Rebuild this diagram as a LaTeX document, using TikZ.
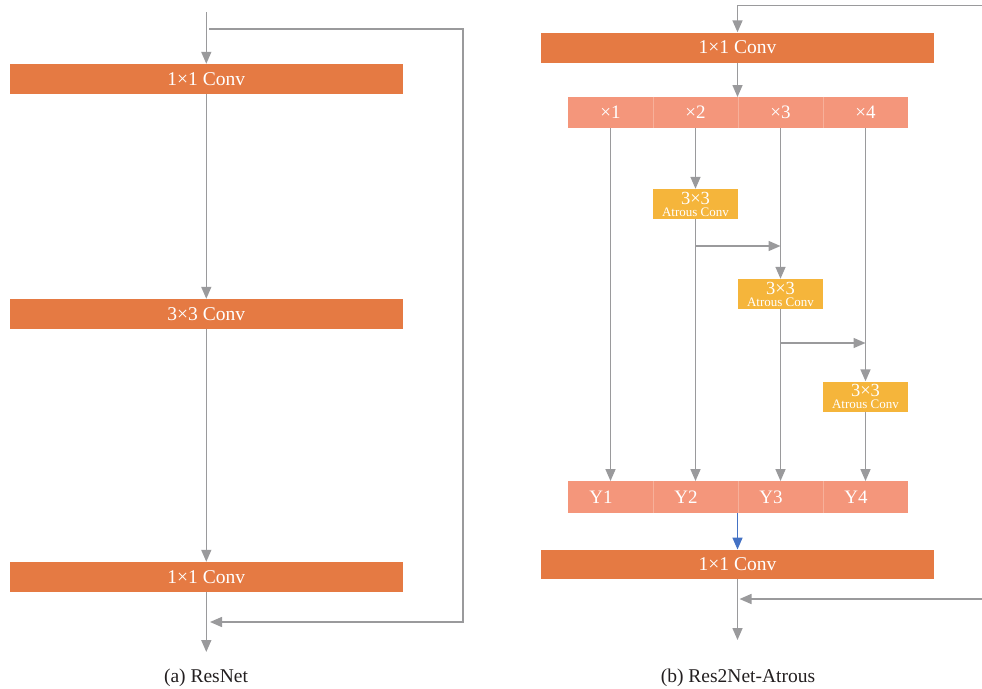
\documentclass[tikz,border=0pt]{standalone}
\usepackage{fontspec}
\setmainfont{Liberation Serif}
\usetikzlibrary{arrows.meta}

\definecolor{convorange}{HTML}{E57A43}
\definecolor{cellsalmon}{HTML}{F4967B}
\definecolor{celldiv}{HTML}{F7B09A}
\definecolor{atrousyellow}{HTML}{F5B53B}
\definecolor{linegray}{HTML}{9A9A9C}
\definecolor{flowblue}{HTML}{4472C4}
\definecolor{captiongray}{HTML}{231F20}

\tikzset{
  conv/.style={rectangle, fill=convorange, text=white, inner sep=0pt,
    minimum width=392.5pt, minimum height=30pt,
    font=\fontsize{19.5}{20}\selectfont},
  cell/.style={rectangle, fill=cellsalmon, text=white, inner sep=0pt,
    minimum width=85pt, minimum height=31.5pt,
    font=\fontsize{19}{20}\selectfont},
  atrous/.style={rectangle, fill=atrousyellow, text=white, inner sep=0pt,
    minimum width=85pt, minimum height=30pt, align=center,
    font=\fontsize{13}{12}\selectfont},
  divider/.style={draw=celldiv, line width=0.7pt},
  arr/.style={draw=linegray, line width=1.5pt,
    -{Triangle[length=12pt,width=10pt]}},
  caption/.style={text=captiongray, inner sep=0pt,
    font=\fontsize{19.5}{20}\selectfont},
}
\newcommand{\atrouslabel}{{\fontsize{18.5}{12}\selectfont 3×3}\\Atrous Conv}

\begin{document}
\begin{tikzpicture}[x=1pt, y=-1pt]
\useasboundingbox (0,0) rectangle (982,688);

% ---------------- (a) ResNet ----------------
\node[conv] (L1) at (206.3, 79)  {1×1 Conv};
\node[conv] (L2) at (206.3, 314) {3×3 Conv};
\node[conv] (L3) at (206.3, 577) {1×1 Conv};

\coordinate (Lin)  at (206.3, 12);
\coordinate (Lout) at (206.3, 652);
\coordinate (Lb1)  at (209, 29);
\coordinate (Lc1)  at (463, 29);
\coordinate (Lc2)  at (463, 622);
\coordinate (Lb2)  at (210, 622);

\draw[arr] (Lin) -- (L1.north);
\draw[arr] (L1.south) -- (L2.north);
\draw[arr] (L2.south) -- (L3.north);
\draw[arr] (L3.south) -- (Lout);
\draw[arr] (Lb1) -- (Lc1) -- (Lc2) -- (Lb2);

\node[caption] (capA) at (206, 678) {(a) ResNet};

% ---------------- (b) Res2Net-Atrous ----------------
\node[conv] (R1) at (737.5, 47.5)  {1×1 Conv};
\node[conv, minimum height=29.5pt] (R2) at (737.5, 564.5) {1×1 Conv};

% split feature groups
\node[cell] (X1) at (610.5, 112.5) {×1};
\node[cell] (X2) at (695.5, 112.5) {×2};
\node[cell] (X3) at (780.5, 112.5) {×3};
\node[cell] (X4) at (865.5, 112.5) {×4};
\draw[divider] (X1.north east) -- (X1.south east);
\draw[divider] (X2.north east) -- (X2.south east);
\draw[divider] (X3.north east) -- (X3.south east);

% output groups (labels sit slightly left of centre)
\node[cell] (Y1) at (610.5, 497) {Y1\kern19pt};
\node[cell] (Y2) at (695.5, 497) {Y2\kern19pt};
\node[cell] (Y3) at (780.5, 497) {Y3\kern19pt};
\node[cell] (Y4) at (865.5, 497) {Y4\kern19pt};
\draw[divider] (Y1.north east) -- (Y1.south east);
\draw[divider] (Y2.north east) -- (Y2.south east);
\draw[divider] (Y3.north east) -- (Y3.south east);

% atrous convolutions
\node[atrous] (A1) at (695.5, 204)   {\atrouslabel};
\node[atrous] (A2) at (780.5, 294)   {\atrouslabel};
\node[atrous] (A3) at (865.5, 396.5) {\atrouslabel};

% main path
\coordinate (Rin)  at (982, 5.7);
\coordinate (Rsp)  at (737.5, 97);
\coordinate (Ryb)  at (737.5, 513);
\coordinate (Rout) at (737.5, 640);
\draw[arr] (Rin) -| (R1.north);
\draw[arr] (R1.south) -- (Rsp);
\draw[arr, draw=flowblue] (Ryb) -- (R2.north);
\draw[arr] (R2.south) -- (Rout);

% residual shortcut
\coordinate (Rb1) at (982, 599);
\coordinate (Rb2) at (739.5, 599);
\draw[arr] (Rb1) -- (Rb2);

% branches
\draw[arr] (X1.south) -- (Y1.north);
\draw[arr] (X2.south) -- (A1.north);
\draw[arr] (A1.south) -- (Y2.north);
\draw[arr] (X3.south) -- (A2.north);
\draw[arr] (A2.south) -- (Y3.north);
\draw[arr] (X4.south) -- (A3.north);
\draw[arr] (A3.south) -- (Y4.north);

% hierarchical connections between branches
\coordinate (H1s) at (695.5, 246);
\coordinate (H1e) at (780.5, 246);
\coordinate (H2s) at (780.5, 343);
\coordinate (H2e) at (865.5, 343);
\draw[arr] (H1s) -- (H1e);
\draw[arr] (H2s) -- (H2e);

\node[caption] (capB) at (738, 678) {(b) Res2Net-Atrous};
\end{tikzpicture}
\end{document}
